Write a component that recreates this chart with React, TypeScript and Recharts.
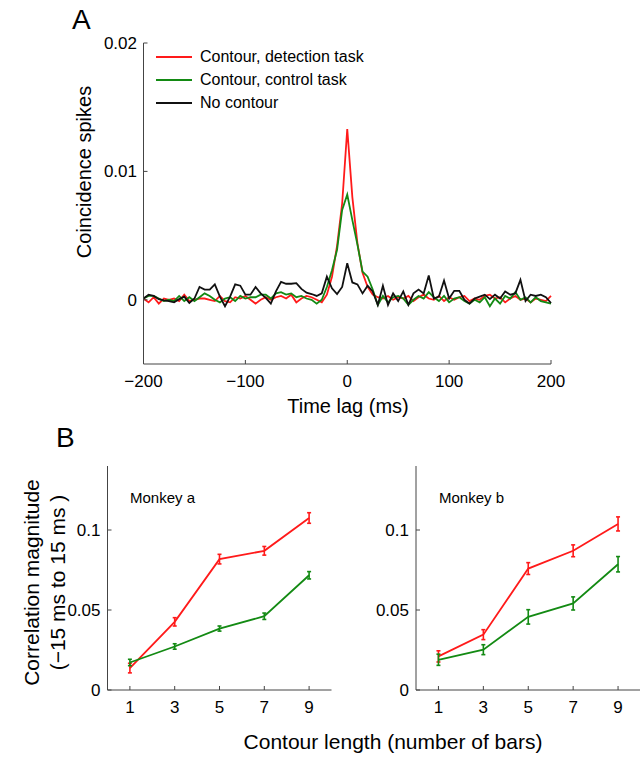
import React from 'react';
import { LineChart, Line, XAxis, YAxis, Legend, ErrorBar } from 'recharts';

// Panel A: cross-correlograms, 5 ms bins
const lagMs = [
  -200, -195, -190, -185, -180, -175, -170, -165, -160, -155,
  -150, -145, -140, -135, -130, -125, -120, -115, -110, -105,
  -100, -95, -90, -85, -80, -75, -70, -65, -60, -55,
  -50, -45, -40, -35, -30, -25, -20, -15, -10, -5,
  0,
  5, 10, 15, 20, 25, 30, 35, 40, 45, 50,
  55, 60, 65, 70, 75, 80, 85, 90, 95, 100,
  105, 110, 115, 120, 125, 130, 135, 140, 145, 150,
  155, 160, 165, 170, 175, 180, 185, 190, 195, 200,
];

const detectionTask = [
  0.0001, -0.0002, 0.0002, -0.0003, 0.0001, 0, 0.0001, -0.0001, 0.0004, -0.0001,
  0, 0.0001, 0.0001, 0, -0.0001, 0.0003, -0.0001, -0.0002, 0.0002, 0.0001,
  0.0003, 0, -0.0003, 0, 0.0002, 0, 0.0002, 0.0003, 0.0001, 0.0004,
  -0.0002, 0.0001, 0.0003, 0.0002, 0, -0.0002, 0.0004, 0.0018, 0.0042, 0.0075,
  0.0133,
  0.008, 0.0044, 0.0021, 0.001, 0.0004, 0.0002, 0.0001, 0.0003, 0, 0.0002,
  0.0001, 0.0003, -0.0001, 0.0002, 0.0004, 0.0001, 0, 0.0003, -0.0001, 0.0002,
  0, 0.0002, 0.0003, -0.0001, 0.0001, 0, 0.0003, 0.0004, 0.0001, 0.0002,
  -0.0002, 0.0001, 0.0003, 0, 0.0001, -0.0002, 0.0001, 0, -0.0001, 0.0003,
];

const controlTask = [
  0.0001, 0.0003, 0.0003, 0.0001, -0.0001, 0, -0.0001, 0.0003, -0.0001, 0.0002,
  -0.0001, 0.0002, 0.0005, 0.0003, 0, -0.0002, 0.0001, 0.0002, -0.0001, 0.0003,
  0.0001, 0.0002, 0.0002, 0.0004, 0.0004, 0.0001, 0.0005, 0.0006, 0.0004, 0.0005,
  0.0002, 0.0003, 0.0001, 0, -0.0003, 0, 0.001, 0.0023, 0.0039, 0.007,
  0.0082,
  0.0062, 0.0043, 0.0022, 0.0018, 0.0008, -0.0004, 0.0003, -0.0002, 0.0002, 0.0003,
  0.0001, -0.0004, 0, 0.0003, 0.0001, 0.0006, 0.0002, -0.0001, 0.0003, -0.0002,
  0.0001, 0.0002, -0.0001, -0.0003, 0, -0.0002, 0.0002, -0.0005, 0.0001, -0.0003,
  0.0003, 0.0001, 0.0006, 0, 0.0002, -0.0002, 0.0002, -0.0001, -0.0002, -0.0003,
];

const noContour = [
  0.0001, 0.0004, 0.0003, 0.00005, -0.00005, -0.0001, -0.0002, 0.00005, 0.00025, -0.00025,
  0.0001, 0.001, 0.0008, 0.0008, 0.0012, 0.00025, -0.0005, 0.00025, 0.0012, 0.0011,
  0.0004, 0.0004, 0.001, 0.0005, 0.00015, -0.0003, 0.00065, 0.0014, 0.00125, 0.00125,
  0.0013, 0.00085, 0.00055, 0.00045, 0.0003, 0.0005, 0.0018, 0.0009, 0.00045, 0.001,
  0.00285,
  0.00135, 0.0012, 0.0005, 0.0011, 0.00065, -0.0004, 0.0011, -0.0004, 0.0005, -0.0001,
  0.00065, -0.0004, 0.0005, 0.0008, 0.0005, 0.0019, 0.0001, 0.00025, 0.0015, 0.0001,
  0.0007, 0.0007, 0, -0.0003, 0.0001, 0.00025, 0.0004, 0.00005, 0.0004, 0.0001,
  0.00065, 0.0004, 0.0005, 0.00155, -0.0001, 0.0004, 0.0003, 0.0004, 0.0002, -0.00025,
];

const legendNames = ['Contour, detection task', 'Contour, control task', 'No contour'];
const lagTicks = [-200, -100, 0, 100, 200];
const spikeTicks = [0, 0.01, 0.02];

// Panel B: correlation magnitude vs contour length
const contourLength = [1, 3, 5, 7, 9];
const magnitudeTicks = [0, 0.05, 0.1];

const monkeyADetect = [0.0137, 0.0426, 0.0818, 0.087, 0.1075];
const monkeyADetectErr = [0.003, 0.0026, 0.003, 0.0027, 0.0033];
const monkeyAControl = [0.0172, 0.0272, 0.0384, 0.0461, 0.0717];
const monkeyAControlErr = [0.002, 0.0017, 0.0016, 0.002, 0.0023];

const monkeyBDetect = [0.021, 0.0346, 0.0759, 0.087, 0.1038];
const monkeyBDetectErr = [0.0035, 0.0031, 0.0037, 0.0037, 0.0044];
const monkeyBControl = [0.0189, 0.0252, 0.0457, 0.0541, 0.0786];
const monkeyBControlErr = [0.0035, 0.0031, 0.0045, 0.0041, 0.0048];

const RED = '#ff1a1a';
const GREEN = '#138a13';
const BLACK = '#111111';
const AXIS = '#444444';
const FONT = '"Liberation Sans", Arial, Helvetica, sans-serif';

const fmt = (v: number) => (v < 0 ? '\u2212' + Math.abs(v) : String(v));

const ccgData = lagMs.map((t, i) => ({
  t,
  detect: detectionTask[i],
  control: controlTask[i],
  none: noContour[i],
}));

function buildRows(detect: number[], detectErr: number[], control: number[], controlErr: number[]) {
  return contourLength.map((len, i) => ({
    len,
    detect: detect[i],
    detectErr: detectErr[i],
    control: control[i],
    controlErr: controlErr[i],
  }));
}

const monkeyARows = buildRows(monkeyADetect, monkeyADetectErr, monkeyAControl, monkeyAControlErr);
const monkeyBRows = buildRows(monkeyBDetect, monkeyBDetectErr, monkeyBControl, monkeyBControlErr);

function VLabel({ cx, cy, size, children }: { cx: number; cy: number; size: number; children: React.ReactNode }) {
  const w = 400;
  return (
    <div
      style={{
        position: 'absolute',
        left: cx - w / 2,
        top: cy - size / 2,
        width: w,
        height: size,
        lineHeight: size + 'px',
        fontSize: size,
        textAlign: 'center',
        transform: 'rotate(-90deg)',
        transformOrigin: 'center',
        whiteSpace: 'nowrap',
      }}
    >
      {children}
    </div>
  );
}

function CcgLegend() {
  const colors = [RED, GREEN, BLACK];
  return (
    <div style={{ fontFamily: FONT, fontSize: 16, color: '#000' }}>
      {legendNames.map((name, i) => (
        <div key={name} style={{ display: 'flex', alignItems: 'center', height: 23 }}>
          <span style={{ display: 'inline-block', width: 36, height: 2, background: colors[i], marginRight: 8 }} />
          <span>{name}</span>
        </div>
      ))}
    </div>
  );
}

function MagnitudePanel({ rows, leftMargin, rightMargin, width }: { rows: any[]; leftMargin: number; rightMargin: number; width: number }) {
  const tickStyle = { fill: '#000', fontSize: 17, fontFamily: FONT };
  return (
    <LineChart width={width} height={320} data={rows} margin={{ top: 46, right: rightMargin, bottom: 20, left: leftMargin }}>
      <XAxis
        dataKey="len"
        type="number"
        domain={[0, 10]}
        ticks={contourLength}
        interval={0}
        height={30}
        tickSize={-4}
        tickMargin={15}
        axisLine={{ stroke: AXIS }}
        tickLine={{ stroke: AXIS }}
        tick={tickStyle}
      />
      <YAxis
        type="number"
        domain={[0, 0.14]}
        ticks={magnitudeTicks}
        interval={0}
        width={40}
        tickSize={-4}
        tickMargin={11}
        axisLine={{ stroke: AXIS }}
        tickLine={{ stroke: AXIS }}
        tick={tickStyle}
        tickFormatter={fmt}
      />
      <Line dataKey="detect" stroke={RED} strokeWidth={1.8} dot={false} isAnimationActive={false}>
        <ErrorBar dataKey="detectErr" direction="y" width={2} stroke={RED} strokeWidth={1.6} />
      </Line>
      <Line dataKey="control" stroke={GREEN} strokeWidth={1.8} dot={false} isAnimationActive={false}>
        <ErrorBar dataKey="controlErr" direction="y" width={2} stroke={GREEN} strokeWidth={1.6} />
      </Line>
    </LineChart>
  );
}

export default function App() {
  const tickStyle = { fill: '#000', fontSize: 17, fontFamily: FONT };
  return (
    <div
      style={{
        position: 'absolute',
        left: 0,
        top: 0,
        width: 640,
        height: 763,
        overflow: 'hidden',
        background: '#fff',
        fontFamily: FONT,
        color: '#000',
      }}
    >
      <div style={{ position: 'absolute', left: 72, top: 4, fontSize: 28 }}>A</div>
      <div style={{ position: 'absolute', left: 0, top: 0 }}>
        <LineChart width={640} height={420} data={ccgData} margin={{ top: 43, right: 89, bottom: 26, left: 83.5 }}>
          <XAxis
            dataKey="t"
            type="number"
            domain={[-200, 200]}
            ticks={lagTicks}
            interval={0}
            height={30}
            tickSize={-4}
            tickMargin={15}
            axisLine={{ stroke: AXIS }}
            tickLine={{ stroke: AXIS }}
            tick={tickStyle}
            tickFormatter={fmt}
          />
          <YAxis
            type="number"
            domain={[-0.005, 0.02]}
            ticks={spikeTicks}
            interval={0}
            width={60}
            tickSize={-4}
            tickMargin={10.5}
            axisLine={{ stroke: AXIS }}
            tickLine={{ stroke: AXIS }}
            tick={tickStyle}
            tickFormatter={fmt}
          />
          <Legend
            layout="horizontal"
            align="center"
            verticalAlign="middle"
            wrapperStyle={{ position: 'absolute', left: 156, top: 45, width: 260, height: 70 }}
            content={() => <CcgLegend />}
          />
          <Line dataKey="detect" stroke={RED} strokeWidth={1.8} dot={false} isAnimationActive={false} />
          <Line dataKey="control" stroke={GREEN} strokeWidth={1.8} dot={false} isAnimationActive={false} />
          <Line dataKey="none" stroke={BLACK} strokeWidth={1.8} dot={false} isAnimationActive={false} />
        </LineChart>
      </div>
      <VLabel cx={84} cy={172} size={20}>Coincidence spikes</VLabel>
      <div style={{ position: 'absolute', left: 248, top: 395, width: 200, textAlign: 'center', fontSize: 20 }}>
        Time lag (ms)
      </div>

      <div style={{ position: 'absolute', left: 56, top: 422, fontSize: 28 }}>B</div>
      <div style={{ position: 'absolute', left: 0, top: 420 }}>
        <MagnitudePanel rows={monkeyARows} width={340} leftMargin={67.5} rightMargin={8.5} />
      </div>
      <div style={{ position: 'absolute', left: 340, top: 420 }}>
        <MagnitudePanel rows={monkeyBRows} width={320} leftMargin={36} rightMargin={19.5} />
      </div>
      <div style={{ position: 'absolute', left: 130, top: 489, fontSize: 15 }}>Monkey a</div>
      <div style={{ position: 'absolute', left: 439, top: 489, fontSize: 15 }}>Monkey b</div>
      <VLabel cx={31} cy={582} size={21}>Correlation magnitude</VLabel>
      <VLabel cx={57} cy={582} size={21}>{'(\u221215 ms to 15 ms )'}</VLabel>
      <div style={{ position: 'absolute', left: 193, top: 730, width: 400, textAlign: 'center', fontSize: 21 }}>
        Contour length (number of bars)
      </div>
    </div>
  );
}
